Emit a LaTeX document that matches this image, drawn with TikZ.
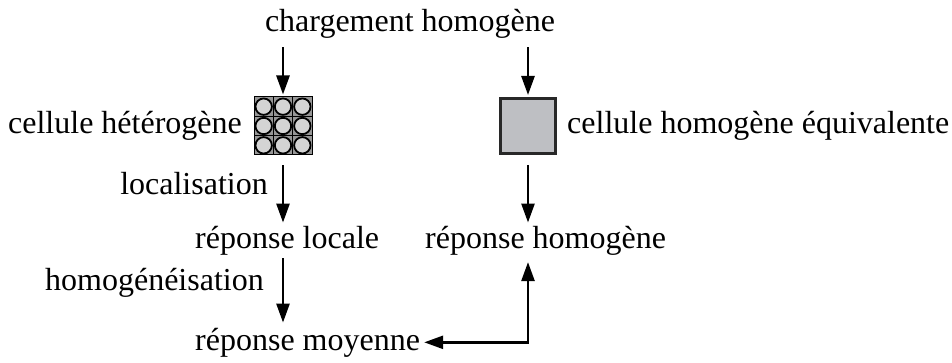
\documentclass[tikz,border=0pt]{standalone}
\usepackage{fontspec}
\setmainfont{Liberation Serif}
\usetikzlibrary{arrows.meta,calc}
\definecolor{hetbg}{RGB}{150,150,150}
\definecolor{circfill}{RGB}{212,212,212}
\definecolor{homfill}{RGB}{190,191,195}
\definecolor{homedge}{RGB}{40,40,40}
\tikzset{
  lbl/.style={inner sep=0pt, font=\fontsize{32}{38}\selectfont},
  arr/.style={line width=2.6pt, -{Triangle[length=19pt,width=13pt]}},
  darr/.style={line width=2.6pt, {Triangle[length=19pt,width=13pt]}-{Triangle[length=19pt,width=13pt]}},
}
\begin{document}
\begin{tikzpicture}[x=1pt,y=-1pt]
\useasboundingbox (0,0) rectangle (952,363);
\node[lbl, anchor=base] (chg) at (410,32) {chargement homogène};
% heterogeneous cell
\node[fill=hetbg, draw=black, line width=1pt, minimum size=58pt, inner sep=0pt] (het) at (283,126) {};
\foreach \i in {-1,0,1}{
  \draw[line width=1pt] ($(het.center)+(\i*19.33-9.67,-29)$) -- ++(0,58);
  \draw[line width=1pt] ($(het.center)+(-29,\i*19.33-9.67)$) -- ++(58,0);
}
\foreach \i in {-1,0,1}{\foreach \j in {-1,0,1}{
  \draw[fill=circfill, line width=1.8pt] ($(het.center)+(\i*19.33,\j*19.33)$) circle (8.2pt);
}}
% homogeneous cell
\node[fill=homfill, draw=homedge, line width=3pt, minimum size=55pt, inner sep=0pt] (hom) at (528,126) {};
\node[lbl, anchor=base east] (lhet) at (242,134) {cellule hétérogène};
\node[lbl, anchor=base west] (lhom) at (567,134) {cellule homogène équivalente};
\node[lbl, anchor=base east] (loc) at (268,195) {localisation};
\node[lbl, anchor=base west] (rloc) at (195,248) {réponse locale};
\node[lbl, anchor=base west] (rhom) at (425,248) {réponse homogène};
\node[lbl, anchor=base east] (hmg) at (264,290) {homogénéisation};
\node[lbl, anchor=base west] (rmoy) at (195,350) {réponse moyenne};
% arrows
\draw[arr, shorten <=8pt, shorten >=2pt] (chg.south -| het.north) -- (het.north);
\draw[arr, shorten <=8pt, shorten >=2pt] (chg.south -| hom.north) -- (hom.north);
\draw[arr, shorten <=10pt, shorten >=3pt] (het.south) -- (rloc.north -| het.south);
\draw[arr, shorten <=10pt, shorten >=3pt] (hom.south) -- (rhom.north -| hom.south);
\draw[arr, shorten <=3pt, shorten >=5pt] (rloc.south -| het.south) -- (rmoy.north -| het.south);
\draw[darr, shorten <=7pt, shorten >=4pt] (rhom.south -| hom.south) |- (rmoy.east);
\end{tikzpicture}
\end{document}
